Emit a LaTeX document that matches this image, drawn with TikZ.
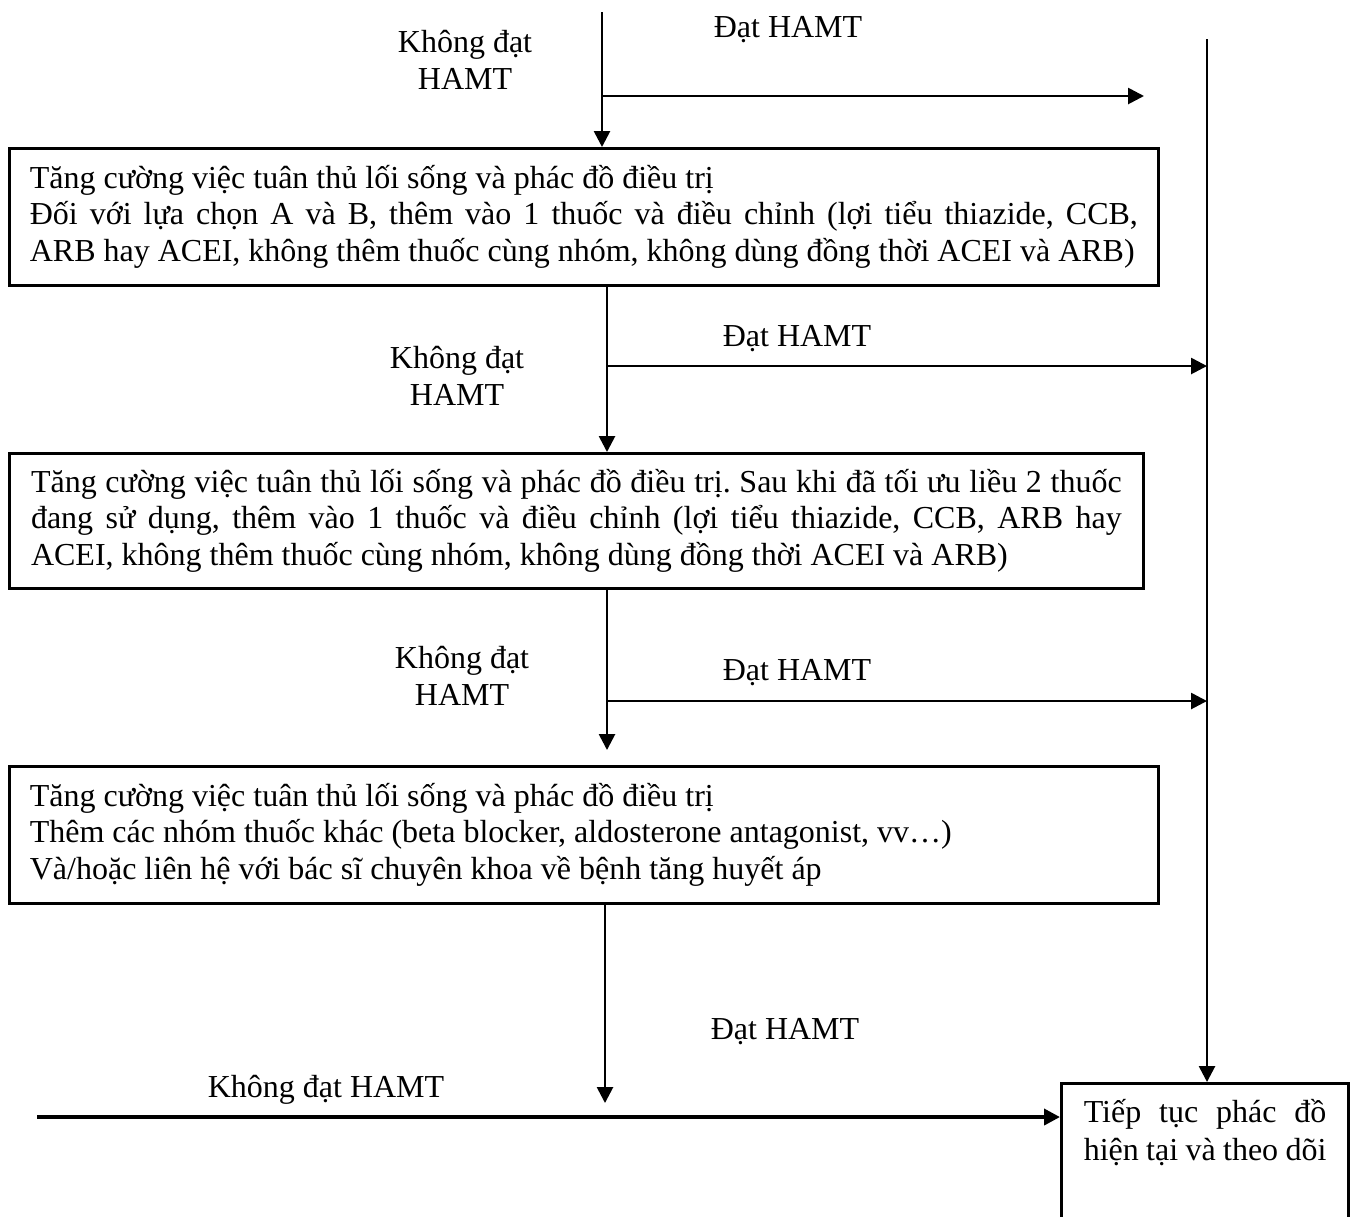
\documentclass[tikz,border=0pt]{standalone}
\usepackage{fontspec}
\setmainfont{Liberation Serif}
\usetikzlibrary{arrows.meta,calc}
\frenchspacing

\begin{document}
\begin{tikzpicture}[
  x=0.375pt, y=-0.375pt,
  font=\fontsize{12}{13.8}\selectfont,
  box/.style ={rectangle, draw, line width=1pt, anchor=north west, inner xsep=7.6pt,
               text width=415.5pt, align=justify},
  lbl/.style ={align=center, inner sep=0pt},
  arr/.style ={-{Triangle[length=6pt,width=6pt]}, line width=1pt},
]
\useasboundingbox (0,0) rectangle (1354,1216);
% boxes
\node[box, minimum width=1149*0.375pt, minimum height=137*0.375pt] (step1) at (8,147)
  {Tăng cường việc tuân thủ lối sống và phác đồ điều trị\\
   Đối với lựa chọn A và B, thêm vào 1 thuốc và điều chỉnh (lợi tiểu thiazide, CCB,\linebreak
   ARB hay ACEI, không thêm thuốc cùng nhóm, không dùng đồng thời ACEI và ARB)};
\node[box, text width=409pt, minimum width=1134*0.375pt, minimum height=135*0.375pt] (step2) at (8,452)
  {Tăng cường việc tuân thủ lối sống và phác đồ điều trị. Sau khi đã tối ưu liều 2 thuốc\linebreak
   đang sử dụng, thêm vào 1 thuốc và điều chỉnh (lợi tiểu thiazide, CCB, ARB hay\linebreak
   ACEI, không thêm thuốc cùng nhóm, không dùng đồng thời ACEI và ARB)};
\node[box, minimum width=1149*0.375pt, minimum height=137*0.375pt] (step3) at (8,765)
  {Tăng cường việc tuân thủ lối sống và phác đồ điều trị\\
   Thêm các nhóm thuốc khác (beta blocker, aldosterone antagonist, vv…)\\
   Và/hoặc liên hệ với bác sĩ chuyên khoa về bệnh tăng huyết áp};
\node[box, text width=91pt, inner xsep=8.4pt, inner ysep=6pt, text depth=45pt,
      font=\fontsize{12}{14.4}\selectfont] (done) at (1060,1082)
  {Tiếp tục phác đồ\linebreak hiện tại và theo dõi};
% free ends
\coordinate (in1)  at (602,12);
\coordinate (j1)   at (602,96);
\coordinate (e1)   at (1144,96);
\coordinate (rtop) at (1207,39);
\coordinate (j2)   at (607,366);
\coordinate (j3)   at (607,701);
\coordinate (e3)   at (607,750);
\coordinate (e4)   at (605,1103);
\coordinate (in4)  at (37,1117);
% connectors
\draw[arr] (in1) -- (in1 |- step1.north);
\draw[arr] (j1) -- (e1);
\draw[arr] (rtop) -- (rtop |- done.north);
\draw[arr] (j2 |- step1.south) -- (j2 |- step2.north);
\draw[arr] (j2) -- (j2 -| rtop);
\draw[arr] (j3 |- step2.south) -- (e3);
\draw[arr] (j3) -- (j3 -| rtop);
\draw[arr] (e4 |- step3.south) -- (e4);
\draw[arr, line width=1.4pt] (in4) -- (in4 -| done.west);
% labels
\node[lbl] (no1)  at (465,60)   {Không đạt\\HAMT};
\node[lbl] (yes1) at (788,30)   {Đạt HAMT};
\node[lbl] (no2)  at (457,376)  {Không đạt\\HAMT};
\node[lbl] (yes2) at (797,339)  {Đạt HAMT};
\node[lbl] (no3)  at (462,676)  {Không đạt\\HAMT};
\node[lbl] (yes3) at (797,673)  {Đạt HAMT};
\node[lbl] (yes4) at (785,1032) {Đạt HAMT};
\node[lbl] (no4)  at (326,1090) {Không đạt HAMT};
\end{tikzpicture}
\end{document}
